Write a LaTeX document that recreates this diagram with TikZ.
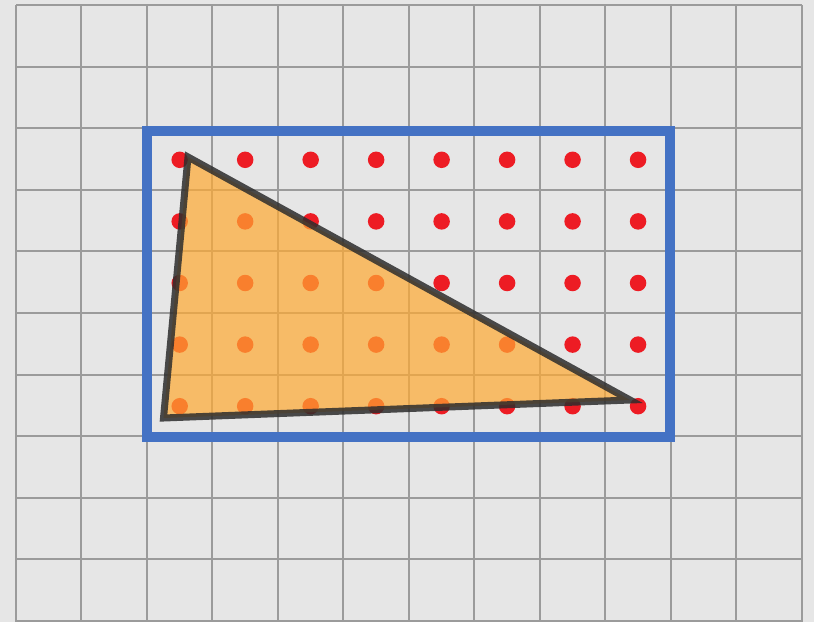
\documentclass[tikz,border=0pt]{standalone}
\begin{document}
\begin{tikzpicture}[x=1pt,y=-1pt,
  gridline/.style={draw=gridgray,line width=2pt},
  dot/.style={circle,fill=dotred,inner sep=0pt,minimum size=16.5pt},
  tri/.style={fill=trifill,fill opacity=0.7,draw=triedge,draw opacity=0.85,line width=7pt,line join=miter},
  bluebox/.style={draw=boxblue,line width=10pt}]
\definecolor{bg}{RGB}{230,230,230}
\definecolor{gridgray}{RGB}{155,155,155}
\definecolor{dotred}{RGB}{237,28,36}
\definecolor{trifill}{RGB}{255,170,50}
\definecolor{triedge}{RGB}{45,45,45}
\definecolor{boxblue}{RGB}{68,114,196}
\fill[bg] (0,0) rectangle (814,622);
\useasboundingbox (0,0) rectangle (814,622);
% grid
\foreach \i in {0,...,12} {
  \draw[gridline] ({16+65.48*\i},5) -- ({16+65.48*\i},622);
}
\foreach \j in {0,...,10} {
  \draw[gridline] (16,{5+61.6*\j}) -- (801.8,{5+61.6*\j});
}
% blue rectangle
\coordinate (boxNW) at (147,130.5);
\coordinate (boxSE) at (670,437);
\draw[bluebox] (boxNW) rectangle (boxSE);
% dots
\foreach \c in {0,...,7} {
  \foreach \r in {0,...,4} {
    \node[dot] (d\c\r) at ({179.7+65.48*\c},{159.8+61.6*\r}) {};
  }
}
% triangle
\coordinate (A) at (188,157);
\coordinate (B) at (163.5,418);
\coordinate (C) at (630,400);
\draw[tri] (A) -- (B) -- (C) -- cycle;
\end{tikzpicture}
\end{document}
